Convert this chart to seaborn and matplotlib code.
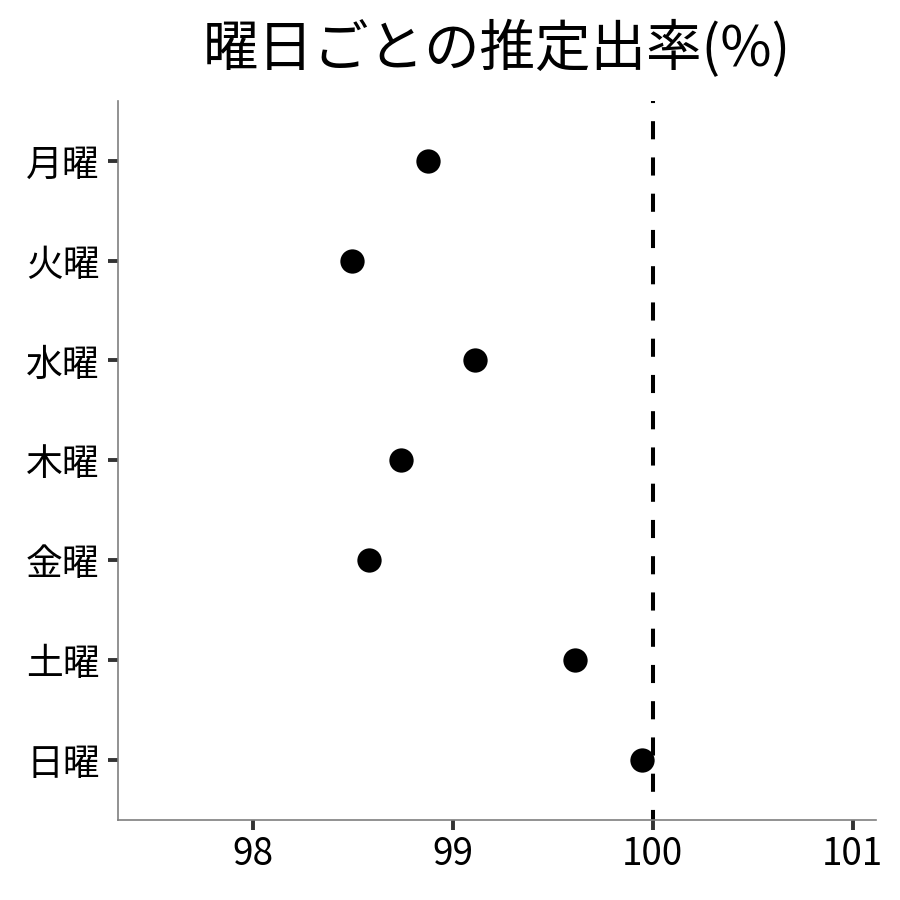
import matplotlib
matplotlib.use("Agg")
import matplotlib.pyplot as plt
import seaborn as sns
import pandas as pd

days = ["月曜", "火曜", "水曜", "木曜", "金曜", "土曜", "日曜"]
rates = [98.875, 98.495, 99.11, 98.74, 98.58, 99.61, 99.945]
xticks = [98, 99, 100, 101]
reference_line = 100
title = "曜日ごとの推定出率(%)"

sns.set_theme(style="white")
plt.rcParams['font.family'] = ['Noto Sans CJK JP', 'DejaVu Sans']

df = pd.DataFrame({"day": days, "rate": rates})

fig = plt.figure(figsize=(9, 9), dpi=100)
ax = fig.add_axes([0.131, 0.089, 0.842, 0.799])

sns.stripplot(data=df, x="rate", y="day", order=days, jitter=False,
              color="black", size=17.5, linewidth=0, ax=ax, zorder=3)
ax.axvline(reference_line, color="black", lw=2.9,
           linestyle=(2.0, (4.5, 4.5)), zorder=2)

ax.set_xlim(97.325, 101.115)
ax.set_ylim(6.6, -0.6)
ax.set_xticks(xticks)
ax.set_xticklabels([str(t) for t in xticks])
ax.set_xlabel("")
ax.set_ylabel("")

for s in ["top", "right"]:
    ax.spines[s].set_visible(False)
for s in ["left", "bottom"]:
    ax.spines[s].set_color("#7f7f7f")
    ax.spines[s].set_linewidth(1.2)

ax.tick_params(axis="both", which="major", direction="out", length=7.2,
               width=2.8, color="#333333", labelsize=26.5, labelcolor="black",
               left=True, bottom=True, pad=4)
ax.tick_params(axis="y", pad=6)

ax.set_title(title, fontsize=40, pad=25, color="black")

fig.savefig("out.png", dpi=100, facecolor="white")
